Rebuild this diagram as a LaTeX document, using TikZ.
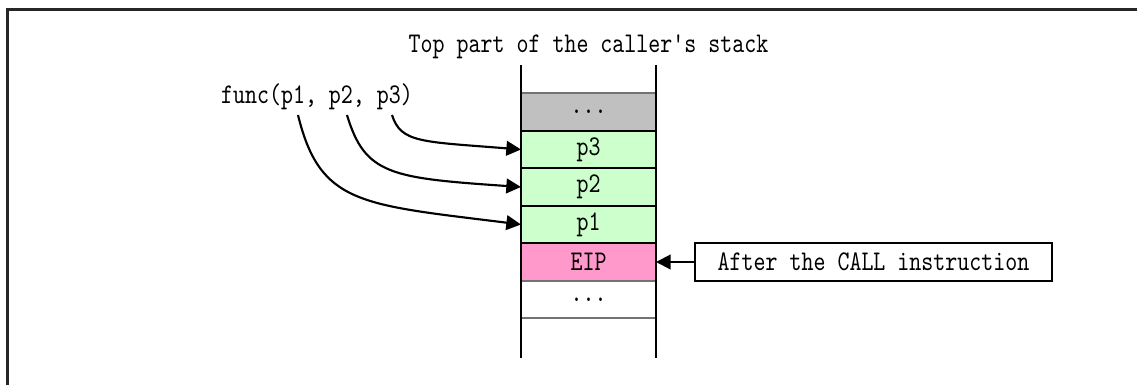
\documentclass[tikz,border=0pt]{standalone}
\usepackage{fontspec}
\setmonofont{lmmono10-regular}[Extension=.otf, FakeStretch=0.8]
\usepackage{tikz}
\usetikzlibrary{shapes,arrows.meta}
\definecolor{slotgray}{HTML}{C0C0C0}
\definecolor{slotgreen}{HTML}{CCFFCC}
\definecolor{slotpink}{HTML}{FF99CC}

\begin{document}
\begin{tikzpicture}[x=0.75pt, y=-0.75pt,
	font=\ttfamily\fontsize{21.4pt}{24pt}\selectfont,
	slot/.style={draw, line width=1.5pt, inner sep=0pt, outer sep=0pt,
		minimum width=101.25pt, minimum height=28.125pt},
	param/.style={line width=1.6pt, -{Triangle[length=11pt,width=11pt]}}]
	\useasboundingbox (0,0) rectangle (1137,385);
	\draw[line width=2.25pt, black!85] (7.5,385) -- (7.5,9.5) -- (1137,9.5);
	
	\node (title) at (588.5,47) {Top part of the caller's stack};
	\node (call) at (317,97) {func(p1, p2, p3)};
	
	\node[slot, fill=slotgray, draw=black!55] (top) at (588.5,112) {...};
	\node[slot, fill=slotgreen] (p3) at (588.5,149.5) {p3};
	\node[slot, fill=slotgreen] (p2) at (588.5,187) {p2};
	\node[slot, fill=slotgreen] (p1) at (588.5,224.5) {p1};
	\node[slot, fill=slotpink] (eip) at (588.5,262) {EIP};
	\node[slot, fill=white, draw=black!55] (low) at (588.5,299.5) {...};
	
	\draw[line width=1.5pt] (521,65) -- (521,358);
	\draw[line width=1.5pt] (656,65) -- (656,358);
	
	\node[slot, fill=white, minimum width=267.75pt] (after) at (873.5,262) {After the CALL instruction};
	
	\coordinate (a3) at (392,115);
	\coordinate (a2) at (347,115);
	\coordinate (a1) at (298,115);
	\draw[param] (a3) .. controls +(9,28) and +(-100,-8) .. (p3.west);
	\draw[param] (a2) .. controls +(18,60) and +(-130,-9) .. (p2.west);
	\draw[param] (a1) .. controls +(22,90) and +(-160,-20) .. (p1.west);
	\draw[param] (after.west) -- (eip.east);
\end{tikzpicture}
\end{document}
